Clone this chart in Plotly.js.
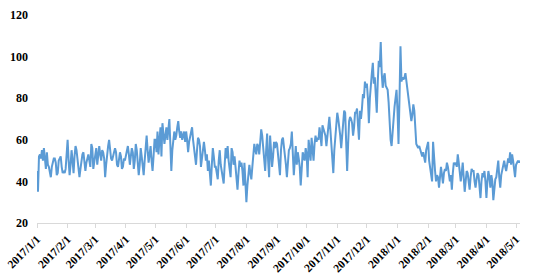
<!DOCTYPE html>
<html>
<head>
<meta charset="utf-8">
<script src="https://cdn.plot.ly/plotly-3.0.1.min.js"></script>
<style>html,body{margin:0;padding:0;background:#fff;}#chart{width:536px;height:280px;}</style>
</head>
<body>
<div id="chart"></div>
<script>
var startDate = '2017-01-01';
var jan2017 = [45, 35, 52, 53, 51, 55, 50, 56, 51, 46, 54, 48, 47, 45, 42, 47, 50, 51, 51, 49, 43, 44, 50, 51, 52, 47, 44, 45, 44, 46, 52];
var feb2017 = [60, 50, 43, 48, 55, 50, 44, 52, 57, 55, 50, 47, 42, 46, 50, 53, 54, 49, 45, 49, 51, 53, 50, 47, 58, 56, 46, 50];
var mar2017 = [54, 56, 48, 52, 57, 53, 50, 55, 54, 51, 42, 48, 55, 57, 60, 55, 51, 50, 52, 53, 56, 54, 48, 47, 50, 54, 52, 46, 47, 51, 50];
var apr2017 = [52, 55, 57, 53, 48, 52, 56, 54, 46, 50, 58, 55, 50, 43, 48, 56, 52, 45, 43, 50, 57, 62, 55, 49, 53, 57, 50, 45, 52, 60];
var may2017 = [60, 54, 64, 53, 60, 66, 52, 68, 63, 58, 62, 66, 60, 65, 70, 58, 45, 55, 59, 64, 60, 62, 66, 69, 64, 61, 64, 60, 62, 64, 59];
var jun2017 = [64, 60, 54, 59, 62, 64, 66, 60, 55, 50, 48, 55, 61, 60, 57, 47, 52, 56, 59, 55, 50, 53, 45, 50, 42, 38, 48, 56, 52, 47];
var jul2017 = [47, 44, 41, 50, 55, 48, 45, 42, 39, 48, 56, 51, 57, 50, 45, 42, 56, 54, 48, 52, 47, 42, 36, 44, 50, 47, 49, 45, 38, 49, 42];
var aug2017 = [30, 38, 46, 48, 44, 41, 47, 52, 58, 55, 53, 58, 57, 53, 60, 65, 62, 56, 50, 45, 55, 63, 50, 42, 62, 55, 47, 52, 59, 56, 59];
var sep2017 = [58, 52, 47, 43, 55, 60, 61, 57, 54, 48, 42, 50, 55, 56, 58, 64, 55, 43, 50, 57, 48, 54, 51, 47, 38, 46, 54, 52, 50, 56];
var oct2017 = [53, 42, 60, 55, 50, 61, 56, 50, 58, 62, 59, 61, 60, 66, 62, 57, 67, 65, 64, 62, 57, 62, 68, 71, 65, 57, 52, 44, 55, 62, 68];
var nov2017 = [73, 70, 67, 62, 56, 64, 72, 74, 73, 60, 45, 58, 69, 71, 70, 68, 62, 66, 73, 73, 75, 67, 60, 74, 70, 75, 82, 80, 88, 85];
var dec2017 = [87, 80, 68, 80, 88, 92, 97, 87, 90, 82, 73, 88, 98, 95, 107, 92, 85, 90, 92, 86, 85, 84, 78, 68, 60, 57, 65, 74, 76, 80, 84];
var jan2018 = [74, 58, 80, 105, 88, 90, 89, 90, 92, 88, 86, 81, 76, 72, 69, 72, 77, 74, 65, 58, 57, 56, 57, 55, 54, 52, 54, 52, 49, 55, 57];
var feb2018 = [59, 50, 47, 45, 40, 59, 50, 45, 40, 43, 42, 37, 42, 47, 43, 39, 44, 46, 45, 49, 47, 44, 40, 43, 36, 44, 49, 48];
var mar2018 = [49, 47, 53, 49, 45, 40, 44, 49, 42, 35, 40, 45, 44, 40, 36, 42, 46, 45, 45, 40, 37, 41, 44, 43, 38, 32, 40, 44, 42, 45, 40];
var apr2018 = [32, 40, 45, 42, 37, 43, 40, 31, 36, 41, 42, 46, 50, 42, 37, 43, 46, 49, 50, 47, 45, 48, 51, 49, 54, 48, 53, 50, 46, 42];
var may2018 = [48, 49, 50, 49, 50];
var yTicks = [20, 40, 60, 80, 100, 120];

var values = [].concat(jan2017, feb2017, mar2017, apr2017, may2017, jun2017, jul2017, aug2017,
  sep2017, oct2017, nov2017, dec2017, jan2018, feb2018, mar2018, apr2018, may2018);
var dates = [];
var d0 = new Date(startDate + 'T00:00:00Z');
for (var i = 0; i < values.length; i++) {
  var d = new Date(d0.getTime() + i * 86400000);
  dates.push(d.toISOString().slice(0, 10));
}

var fontFam = 'Liberation Serif, Times New Roman, serif';
var trace = {
  x: dates, y: values, type: 'scatter', mode: 'lines',
  line: {color: '#5b9bd5', width: 2},
  hoverinfo: 'skip'
};
var layout = {
  width: 536, height: 280,
  margin: {l: 37, r: 16, t: 15, b: 57},
  paper_bgcolor: '#fff', plot_bgcolor: '#fff',
  showlegend: false,
  font: {family: fontFam, color: '#000'},
  xaxis: {
    type: 'date',
    range: ['2017-01-01', dates[dates.length - 1]],
    tick0: '2017-01-01', dtick: 'M1',
    tickformat: '%Y/%-m/%-d',
    tickangle: -45,
    tickfont: {family: fontFam, size: 11.5, color: '#000', weight: 'bold'},
    showgrid: false, zeroline: false,
    showline: true, linecolor: '#d9d9d9', linewidth: 1,
    ticks: 'outside', ticklen: 4, tickcolor: '#d9d9d9'
  },
  yaxis: {
    range: [20, 120],
    tickvals: yTicks,
    tickfont: {family: fontFam, size: 12, color: '#000', weight: 'bold'},
    showgrid: false, zeroline: false, showline: false,
    ticks: '', ticklabelstandoff: 8
  }
};
Plotly.newPlot('chart', [trace], layout, {displayModeBar: false, staticPlot: true});
</script>
</body>
</html>
